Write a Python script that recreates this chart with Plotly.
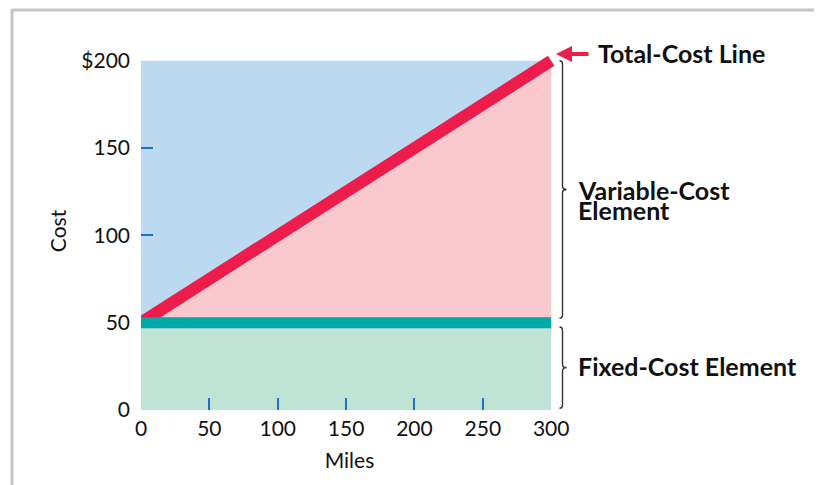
import plotly.graph_objects as go

# ---- data ----
miles = [0, 300]
fixed_cost = [50, 50]
total_cost = [50, 200]
cost_top = 200
x_tickvals = [0, 50, 100, 150, 200, 250, 300]
x_ticktext = ["0", "50", "100", "150", "200", "250", "300"]
y_tickvals = [0, 50, 100, 150, 200]
y_ticktext = ["0", "50", "100", "150", "$200"]
x_minor_ticks = [50, 100, 150, 200, 250]
y_minor_ticks = [100, 150]

# ---- layout geometry ----
OFF = 8  # page offset of the figure inside the browser window
W, H = 822, 485
PW, PH = 417, 358
ML, MT = 141 - OFF, 52 - OFF
MR, MB = W - ML - PW, H - MT - PH
FONT = "Lato"

def px_x(px):
    return (px - OFF - ML) / PW

def py_y(py):
    return (MT + PH - (py - OFF)) / PH

BLUE = "#BBDAF2"
PINK = "#F9C8CC"
GREEN = "#BFE3D4"
TEAL = "#00A9A8"
RED = "#EE1C4B"
TICK = "#1F6FC2"

fig = go.Figure()

# green: fixed cost region
fig.add_trace(go.Scatter(x=miles, y=fixed_cost, fill="tozeroy", fillcolor=GREEN,
                         mode="none", hoverinfo="skip", showlegend=False))
# pink: variable cost region (between fixed cost and total cost)
fig.add_trace(go.Scatter(x=[miles[0], miles[1], miles[1], miles[0]],
                         y=[fixed_cost[0], fixed_cost[1], total_cost[1], total_cost[0]],
                         fill="toself", fillcolor=PINK, mode="none",
                         hoverinfo="skip", showlegend=False))
# blue: above total cost line
fig.add_trace(go.Scatter(x=[miles[0], miles[0], miles[1], miles[0]],
                         y=[total_cost[0], cost_top, cost_top, total_cost[0]],
                         fill="toself", fillcolor=BLUE, mode="none",
                         hoverinfo="skip", showlegend=False))
# total cost line
fig.add_trace(go.Scatter(x=miles, y=total_cost, mode="lines",
                         line=dict(color=RED, width=12), hoverinfo="skip", showlegend=False))
# fixed cost line
fig.add_trace(go.Scatter(x=miles, y=fixed_cost, mode="lines",
                         line=dict(color=TEAL, width=11), hoverinfo="skip", showlegend=False))

tickfont = dict(family=FONT, size=21, color="#111111")

fig.update_xaxes(range=[0, 305], tickvals=x_tickvals, ticktext=x_ticktext,
                 ticks="", showgrid=False, zeroline=False, showline=False,
                 tickfont=tickfont, ticklabelstandoff=4,
                 title=dict(text="Miles", font=dict(family=FONT, size=21, color="#111111"), standoff=14),
                 minor=dict(tickvals=x_minor_ticks, ticks="inside", ticklen=12,
                            tickcolor=TICK, tickwidth=1.5, showgrid=False),
                 automargin=False)
fig.update_yaxes(range=[0, 205], tickvals=y_tickvals, ticktext=y_ticktext,
                 ticks="", showgrid=False, zeroline=False, showline=False,
                 tickfont=tickfont, ticklabelstandoff=10,
                 title=dict(text="Cost", font=dict(family=FONT, size=21, color="#111111"), standoff=8),
                 minor=dict(tickvals=y_minor_ticks, ticks="inside", ticklen=12,
                            tickcolor=TICK, tickwidth=1.5, showgrid=False),
                 automargin=False)

# ---- braces (x in paper, y in data) ----
def brace(y_lo, y_hi, px_line=562.5, w=3, tip=4):
    x0 = px_x(px_line)
    xl = px_x(px_line - w)
    xt = px_x(px_line + tip)
    d = 2.0
    ym = (y_lo + y_hi) / 2
    return (f"M {xl},{y_hi} Q {x0},{y_hi} {x0},{y_hi - d} "
            f"L {x0},{ym + d} Q {x0},{ym} {xt},{ym} "
            f"Q {x0},{ym} {x0},{ym - d} "
            f"L {x0},{y_lo + d} Q {x0},{y_lo} {xl},{y_lo}")

shapes = [
    dict(type="path", xref="paper", yref="y", path=brace(fixed_cost[1] + 2.5, total_cost[1]),
         line=dict(color="#333333", width=1.4)),
    dict(type="path", xref="paper", yref="y", path=brace(1, fixed_cost[1] - 2.5),
         line=dict(color="#333333", width=1.4)),
    # page frame (top and left)
    dict(type="line", xref="paper", yref="paper", x0=px_x(12), x1=px_x(840),
         y0=py_y(10), y1=py_y(10), line=dict(color="#C4C4C4", width=3)),
    dict(type="line", xref="paper", yref="paper", x0=px_x(12), x1=px_x(12),
         y0=py_y(9), y1=py_y(500), line=dict(color="#C4C4C4", width=3)),
]

lab = dict(family=FONT, size=25, color="#111111", weight="bold")
annotations = [
    dict(xref="paper", yref="paper", x=px_x(596), y=py_y(53), xanchor="left", yanchor="middle",
         text="Total-Cost Line", showarrow=False, font=lab),
    dict(xref="paper", yref="paper", x=px_x(556), y=py_y(54), text="", showarrow=True,
         axref="pixel", ayref="pixel", ax=34, ay=0, arrowhead=2, arrowsize=0.8,
         arrowwidth=4, arrowcolor=RED, standoff=0),
    dict(xref="paper", yref="paper", x=px_x(576), y=py_y(190), xanchor="left", yanchor="middle",
         text="Variable-Cost", showarrow=False, font=lab),
    dict(xref="paper", yref="paper", x=px_x(576), y=py_y(210), xanchor="left", yanchor="middle",
         text="Element", showarrow=False, font=lab),
    dict(xref="paper", yref="paper", x=px_x(576), y=py_y(366), xanchor="left", yanchor="middle",
         text="Fixed-Cost Element", showarrow=False, font=lab),
]

fig.update_layout(width=W, height=H, margin=dict(l=ML, r=MR, t=MT, b=MB),
                  paper_bgcolor="white", plot_bgcolor="white",
                  shapes=shapes, annotations=annotations, font=dict(family=FONT))

fig.write_html("out.html")
